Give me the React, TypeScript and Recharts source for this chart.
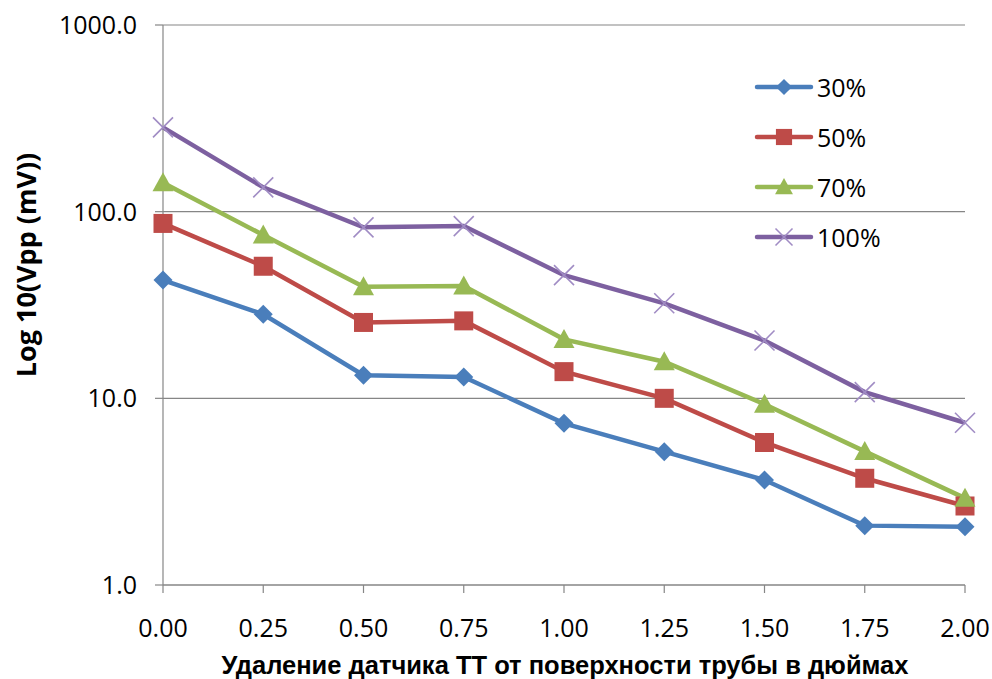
import React from "react";
import { LineChart, Line, XAxis, YAxis, CartesianGrid, Label } from "recharts";

const distances = [0, 0.25, 0.5, 0.75, 1.0, 1.25, 1.5, 1.75, 2.0];
const s30 = [43, 28.2, 13.3, 13.0, 7.35, 5.18, 3.65, 2.08, 2.05];
const s50 = [86.5, 51, 25.5, 26, 13.9, 10.0, 5.8, 3.73, 2.65];
const s70 = [143, 75, 39.6, 40, 20.7, 15.7, 9.3, 5.2, 2.92];
const s100 = [283, 135, 82.4, 83.7, 45.7, 32.3, 20.4, 10.8, 7.4];
const xTicks = [0, 0.25, 0.5, 0.75, 1.0, 1.25, 1.5, 1.75, 2.0];
const yTicks = [1, 10, 100, 1000];
const xTitle = "Удаление датчика ТТ от поверхности трубы в дюймах";
const yTitle = "Log 10(Vpp (mV))";

const data = distances.map((x, i) => ({
  x,
  s30: s30[i],
  s50: s50[i],
  s70: s70[i],
  s100: s100[i],
}));

type Shape = "diamond" | "square" | "triangle" | "x";

const series: { key: string; name: string; color: string; markColor: string; shape: Shape }[] = [
  { key: "s30", name: "30%", color: "#4A7EBB", markColor: "#4A7EBB", shape: "diamond" },
  { key: "s50", name: "50%", color: "#BE4B48", markColor: "#BE4B48", shape: "square" },
  { key: "s70", name: "70%", color: "#98B954", markColor: "#98B954", shape: "triangle" },
  { key: "s100", name: "100%", color: "#7D60A0", markColor: "#A08CC4", shape: "x" },
];

const FONT = "'Open Sans', sans-serif";

function Marker({ cx, cy, shape, color, s = 1 }: { cx: number; cy: number; shape: Shape; color: string; s?: number }) {
  if (shape === "diamond") {
    const r = 9.5 * s;
    return <path d={`M${cx},${cy - r}L${cx + r},${cy}L${cx},${cy + r}L${cx - r},${cy}Z`} fill={color} />;
  }
  if (shape === "square") {
    const r = 9.5 * s;
    return <rect x={cx - r} y={cy - r} width={2 * r} height={2 * r} fill={color} />;
  }
  if (shape === "triangle") {
    const w = 10.5 * s;
    const h = 19 * s;
    return <path d={`M${cx},${cy - h * 0.55}L${cx + w},${cy + h * 0.45}L${cx - w},${cy + h * 0.45}Z`} fill={color} />;
  }
  const r = 10 * s;
  return (
    <g stroke={color} strokeWidth={1.6}>
      <line x1={cx - r} y1={cy - r} x2={cx + r} y2={cy + r} />
      <line x1={cx - r} y1={cy + r} x2={cx + r} y2={cy - r} />
    </g>
  );
}

function LegendBox() {
  return (
    <div style={{ position: "absolute", left: 754, top: 62, fontFamily: FONT, fontSize: 25, color: "#000" }}>
      {series.map((s) => (
        <div key={s.key} style={{ display: "flex", alignItems: "center", height: 50 }}>
          <svg width={63} height={24} style={{ display: "block" }}>
            <line x1={3} y1={12} x2={57} y2={12} stroke={s.color} strokeWidth={4.5} strokeLinecap="round" />
            <Marker cx={30} cy={12} shape={s.shape} color={s.markColor} s={0.85} />
          </svg>
          <span style={{ lineHeight: "24px" }}>{s.name}</span>
        </div>
      ))}
    </div>
  );
}

export default function App() {
  return (
    <div style={{ position: "absolute", left: 0, top: 0, width: 992, height: 679, background: "#fff" }}>
      <LineChart width={992} height={679} data={data} margin={{ top: 25, right: 27, bottom: 0, left: 0 }}>
        <CartesianGrid vertical={false} stroke="#868686" strokeWidth={1.2} />
        <XAxis
          type="number"
          dataKey="x"
          domain={[0, 2]}
          ticks={xTicks}
          tickFormatter={(v: number) => v.toFixed(2)}
          stroke="#868686"
          strokeWidth={1.2}
          tickSize={8}
          tickMargin={26}
          tick={{ fill: "#000", fontFamily: FONT, fontSize: 25 }}
          height={94}
        >
          <Label
            content={() => (
              <text x={565} y={665} textAnchor="middle" dominantBaseline="central" fontFamily="'Liberation Sans', Arial, sans-serif" fontWeight="bold" fontSize={25.5} fill="#000">
                {xTitle}
              </text>
            )}
          />
        </XAxis>
        <YAxis
          scale="log"
          domain={[1, 1000]}
          ticks={yTicks}
          allowDataOverflow
          tickFormatter={(v: number) => v.toFixed(1)}
          stroke="#868686"
          strokeWidth={1.2}
          tickSize={8}
          tickMargin={18}
          width={163}
          tick={{ fill: "#000", fontFamily: FONT, fontSize: 25 }}
        >
          <Label
            content={() => (
              <text x={25} y={265} transform="rotate(-90 25 265)" textAnchor="middle" dominantBaseline="central" fontFamily={FONT} fontWeight="bold" fontSize={27} fill="#000">
                {yTitle}
              </text>
            )}
          />
        </YAxis>
        {series.map((s) => (
          <Line
            key={s.key}
            dataKey={s.key}
            name={s.name}
            stroke={s.color}
            strokeWidth={4.5}
            isAnimationActive={false}
            dot={(p: any) => (
              <Marker key={`${s.key}-${p.index}`} cx={p.cx} cy={p.cy} shape={s.shape} color={s.markColor} />
            )}
            activeDot={false}
          />
        ))}
      </LineChart>
      <LegendBox />
    </div>
  );
}
